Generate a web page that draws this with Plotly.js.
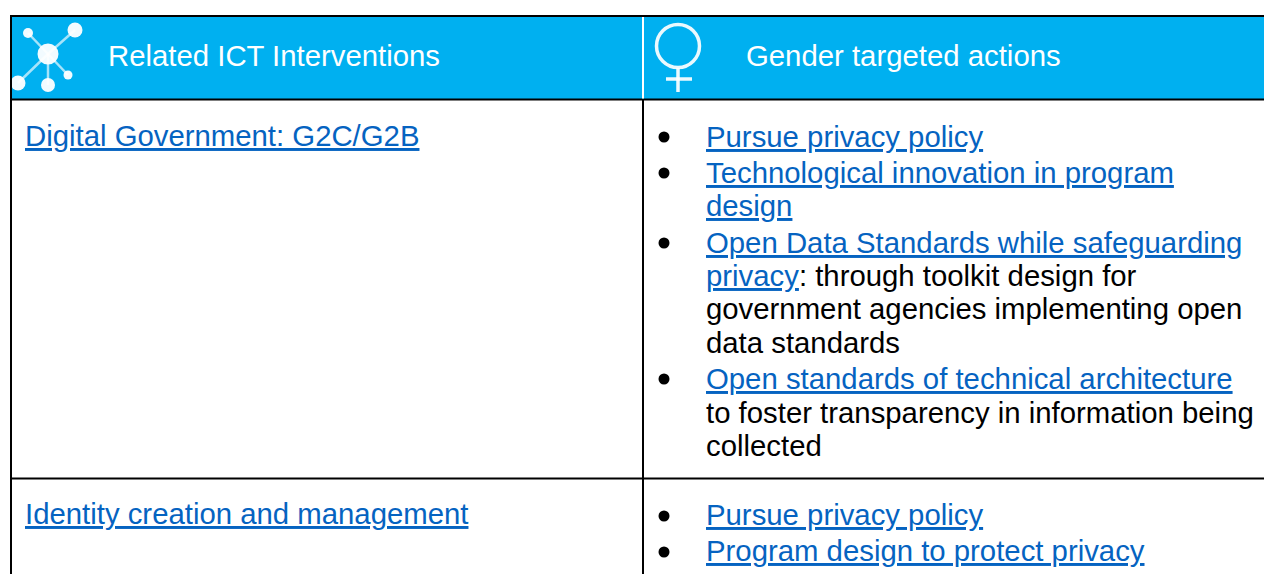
<!DOCTYPE html>
<html>
<head>
<meta charset="utf-8">
<script src="https://cdn.plot.ly/plotly-3.0.1.min.js"></script>
<style>html,body{margin:0;padding:0;background:#fff;overflow:hidden}#c{width:1264px;height:574px}</style>
</head>
<body>
<div id="c"></div>
<script>
const WIDTH = 1264, HEIGHT = 574;
const LINK = '#0563C1', HEAD = '#00B0F0', INK = '#000000';
const FONT = '"Liberation Sans", Arial, sans-serif';
const SIZE = 29.33;

const headerTexts = ['Related ICT Interventions', 'Gender targeted actions'];
const headerX = [107, 745];
const headerY = [55, 55];

const leftLines = ['Digital Government: G2C/G2B', 'Identity creation and management'];
const leftY = [135, 513];

const rightLines = [
  ['Pursue privacy policy', ''],
  ['Technological innovation in program', ''],
  ['design', ''],
  ['Open Data Standards while safeguarding', ''],
  ['privacy', ': through toolkit design for'],
  ['', 'government agencies implementing open'],
  ['', 'data standards'],
  ['Open standards of technical architecture', ''],
  ['', 'to foster transparency in information being'],
  ['', 'collected'],
  ['Pursue privacy policy', ''],
  ['Program design to protect privacy', '']
];
const rightY = [136, 172, 205, 242, 275, 308, 342, 378, 412, 445, 514, 550];
const bulletY = [137, 173, 243, 379, 516, 552];
const bulletX = 664;

const netHub = [48, 54];
const netNodesX = [28, 75, 68, 18, 48];
const netNodesY = [33, 30, 75, 83, 85];
const netNodesSize = [10, 15, 9, 15, 14];

function link(t) { return t ? '<span style="color:' + LINK + ';text-decoration:underline;text-decoration-thickness:3px">' + t + '</span>' : ''; }
function note(x, y, text, color) {
  return { x: x, y: y, xref: 'x', yref: 'y', xanchor: 'left', yanchor: 'middle', showarrow: false,
    text: text, align: 'left', borderpad: 0, font: { family: FONT, size: SIZE, color: color } };
}

const annotations = [];
headerTexts.forEach((t, i) => annotations.push(note(headerX[i], headerY[i], t, '#ffffff')));
leftLines.forEach((t, i) => annotations.push(note(23.5, leftY[i], link(t), INK)));
rightLines.forEach((l, i) => annotations.push(note(704.5, rightY[i], link(l[0]) + l[1], INK)));

const rule = (x0, y0, x1, y1, c, w) => ({ type: 'line', x0, y0, x1, y1, xref: 'x', yref: 'y', line: { color: c, width: w } });
const shapes = [
  { type: 'rect', x0: 11, x1: WIDTH, y0: 16, y1: 99, xref: 'x', yref: 'y', fillcolor: HEAD, line: { width: 0 }, layer: 'below' },
  rule(10, 16, WIDTH, 16, INK, 2),
  rule(11, 15, 11, HEIGHT, INK, 2),
  rule(10, 99.5, WIDTH, 99.5, INK, 2),
  rule(643, 17, 643, 98.5, '#ffffff', 2),
  rule(643, 100, 643, HEIGHT, INK, 2),
  rule(10, 478.5, WIDTH, 478.5, INK, 2)
];

const iconWhite = 'rgba(255,255,255,0.92)';
const traces = [];
netNodesX.forEach((x, i) => traces.push({
  x: [netHub[0], x], y: [netHub[1], netNodesY[i]], mode: 'lines', hoverinfo: 'skip',
  line: { color: 'rgba(255,255,255,0.65)', width: 2.5 }
}));
traces.push({
  x: netNodesX.concat([netHub[0]]), y: netNodesY.concat([netHub[1]]), mode: 'markers', hoverinfo: 'skip',
  marker: { color: '#ffffff', opacity: 0.95, size: netNodesSize.concat([21]), line: { width: 0 } }
});
traces.push({
  x: [678], y: [46], mode: 'markers', hoverinfo: 'skip',
  marker: { symbol: 'circle-open', size: 43, color: iconWhite, line: { color: iconWhite, width: 3.5 } }
});
traces.push({ x: [678, 678], y: [68, 92], mode: 'lines', hoverinfo: 'skip', line: { color: iconWhite, width: 3.5 } });
traces.push({ x: [666, 692], y: [79, 79], mode: 'lines', hoverinfo: 'skip', line: { color: iconWhite, width: 3.5 } });
traces.push({
  x: bulletY.map(() => bulletX), y: bulletY, mode: 'markers', hoverinfo: 'skip',
  marker: { color: INK, size: 11, line: { width: 0 } }
});

const axis = { visible: false, fixedrange: true, showgrid: false, zeroline: false };
Plotly.newPlot('c', traces, {
  width: WIDTH, height: HEIGHT, showlegend: false,
  margin: { l: 0, r: 0, t: 0, b: 0, pad: 0 },
  paper_bgcolor: '#ffffff', plot_bgcolor: '#ffffff',
  xaxis: Object.assign({ range: [0, WIDTH] }, axis),
  yaxis: Object.assign({ range: [HEIGHT, 0] }, axis),
  shapes: shapes, annotations: annotations
}, { displayModeBar: false, staticPlot: true });
</script>
</body>
</html>
